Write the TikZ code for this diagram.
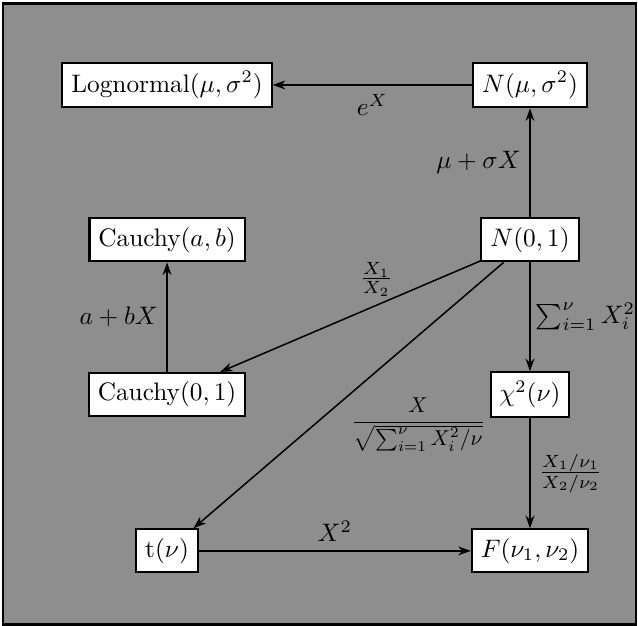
\documentclass[tikz,border=0pt]{standalone}
\usepackage{amsmath}
\usepackage{xcolor}
\usepackage{tikz}
\usetikzlibrary{arrows.meta,positioning,calc}
\definecolor{dither}{HTML}{8E8E8E}

\begin{document}
\begin{tikzpicture}[>={Stealth[length=5pt,width=3.5pt]},
  dist/.style={draw,line width=0.8pt,fill=white,inner sep=3.5pt,minimum height=0.6cm},
  map/.style={->,line width=0.6pt}]
% ---------- background and frame ----------
\useasboundingbox (0,0) rectangle (8.86,8.69);
\fill[dither] (0.04,0.02) rectangle (8.83,8.64);
\draw[line width=1pt] (0.04,0.02) rectangle (8.83,8.64);
% ---------- distributions ----------
\node[dist] (logn) at (2.32,7.51) {Lognormal$(\mu,\sigma^2)$};
\node[dist] (nms)  at (7.36,7.51) {$N(\mu,\sigma^2)$};
\node[dist] (cab)  at (2.32,5.36) {Cauchy$(a,b)$};
\node[dist] (n01)  at (7.36,5.36) {$N(0,1)$};
\node[dist] (c01)  at (2.32,3.21) {Cauchy$(0,1)$};
\node[dist] (chi)  at (7.36,3.21) {$\chi^2(\nu)$};
\node[dist] (tnu)  at (2.32,1.04) {t$(\nu)$};
\node[dist] (fnu)  at (7.36,1.04) {$F(\nu_1,\nu_2)$};
% ---------- transformations ----------
\draw[map] (nms) -- node[below]{$e^X$} (logn);
\draw[map] (n01) -- node[left]{$\mu+\sigma X$} (nms);
\draw[map] (c01) -- node[left]{$a+bX$} (cab);
\draw[map] (n01) -- node[above,pos=0.4]{$\frac{X_1}{X_2}$} (c01);
\draw[map] (n01) -- node[pos=0.5,anchor=north west,inner sep=1pt,scale=0.85]{$\dfrac{X}{\sqrt{\sum_{i=1}^{\nu}X_i^{2}/\nu}}$} (tnu);
\draw[map] (n01) -- node[right,inner sep=2pt]{$\sum_{i=1}^{\nu}X_i^{2}$} (chi);
\draw[map] (chi) -- node[right]{$\frac{X_1/\nu_1}{X_2/\nu_2}$} (fnu);
\draw[map] (tnu) -- node[above]{$X^2$} (fnu);
\end{tikzpicture}
\end{document}
